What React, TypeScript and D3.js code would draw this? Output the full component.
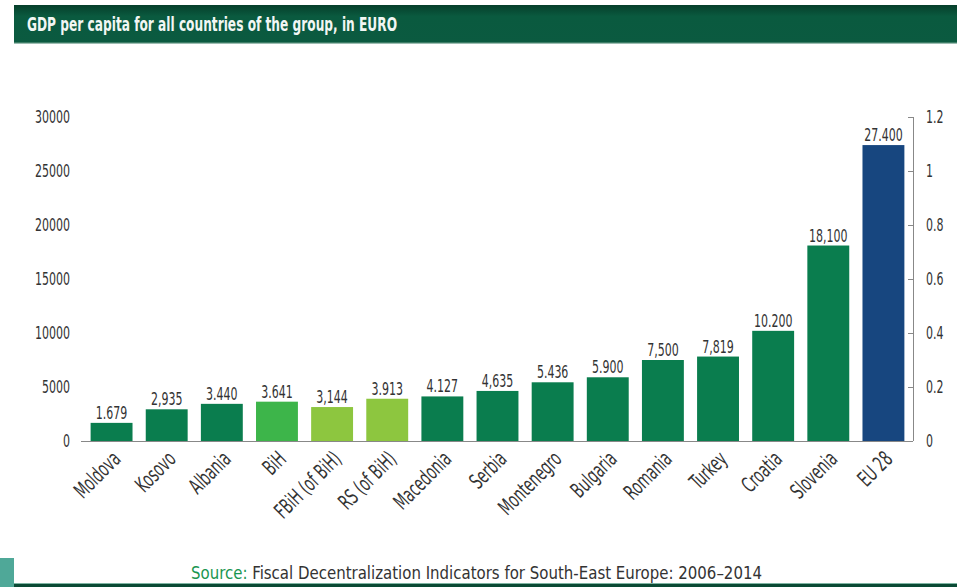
import React from "react";
import * as d3 from "d3";

const categories = ["Moldova", "Kosovo", "Albania", "BiH", "FBiH (of BiH)", "RS (of BiH)", "Macedonia", "Serbia", "Montenegro", "Bulgaria", "Romania", "Turkey", "Croatia", "Slovenia", "EU 28"];
const values = [1679, 2935, 3440, 3641, 3144, 3913, 4127, 4635, 5436, 5900, 7500, 7819, 10200, 18100, 27400];
const valueLabels = ["1.679", "2,935", "3.440", "3.641", "3,144", "3.913", "4.127", "4,635", "5.436", "5.900", "7,500", "7,819", "10.200", "18,100", "27.400"];
const groups = ["c", "c", "c", "b", "r", "r", "c", "c", "c", "c", "c", "c", "c", "c", "e"];
const leftTicks = [0, 5000, 10000, 15000, 20000, 25000, 30000];
const rightTicks = [0, 0.2, 0.4, 0.6, 0.8, 1, 1.2];

const colors: Record<string, string> = { c: "#0a7d4e", b: "#3db54a", r: "#8dc63f", e: "#17467f" };
const FONT = "'DejaVu Sans Condensed', 'Liberation Sans Narrow', sans-serif";
const SX = 0.68;

function T(props: { x: number; y: number; anchor?: string; size?: number; rot?: number; fill?: string; dy?: string; children: any }) {
  const { x, y, anchor = "start", size = 18, rot = 0, fill = "#333", dy = "0", children } = props;
  return (
    <text transform={`translate(${x},${y}) rotate(${rot}) scale(${SX},1)`} textAnchor={anchor} dy={dy} fontFamily={FONT} fontSize={size} fill={fill}>{children}</text>
  );
}

export default function App() {
  const W = 957, H = 587;
  const top = 117, bottom = 441;
  const x = d3.scaleBand<string>().domain(categories).range([84, 911]).paddingInner(0.24).paddingOuter(0.12);
  const y = d3.scaleLinear().domain([0, 30000]).range([bottom, top]);
  const y2 = d3.scaleLinear().domain([0, 1.2]).range([bottom, top]);
  const axisX = 913;
  return (
    <svg width={W} height={H} style={{ position: "absolute", left: 0, top: 0, background: "#fff" }}>
      <defs>
        <linearGradient id="hdr" x1="0" y1="0" x2="0" y2="1">
          <stop offset="0" stopColor="#063f2b" />
          <stop offset="0.3" stopColor="#0a5a3f" />
          <stop offset="1" stopColor="#0b5a40" />
        </linearGradient>
      </defs>
      <rect x={14} y={5} width={W - 14} height={38} fill="url(#hdr)" />
      <rect x={14} y={42} width={W - 14} height={1.5} fill="#3d7d66" />
      <text x={27} y={31} fill="#f2f7f4" fontFamily={FONT} fontSize={19} fontWeight="bold" textLength={370} lengthAdjust="spacingAndGlyphs">GDP per capita for all countries of the group, in EURO</text>

      {leftTicks.map(t => (
        <T key={t} x={70} y={y(t)} dy="0.36em" anchor="end">{t}</T>
      ))}

      <line x1={81} x2={axisX} y1={bottom + 0.5} y2={bottom + 0.5} stroke="#888" strokeWidth={1} />

      {categories.map((c, i) => {
        const cx = (x(c) as number) + x.bandwidth() / 2;
        return (
          <g key={c}>
            <rect x={x(c)} y={y(values[i])} width={x.bandwidth()} height={bottom - y(values[i])} fill={colors[groups[i]]} />
            <T x={cx} y={y(values[i]) - 4} anchor="middle">{valueLabels[i]}</T>
            <T x={cx - 1} y={bottom + 8} rot={-45} anchor="end" dy="0.75em" size={21.5}>{c}</T>
          </g>
        );
      })}

      <line x1={axisX + 0.5} x2={axisX + 0.5} y1={top} y2={bottom} stroke="#888" strokeWidth={1} />
      {rightTicks.map(t => (
        <g key={t}>
          <line x1={axisX - 5} x2={axisX} y1={y2(t) + 0.5} y2={y2(t) + 0.5} stroke="#888" strokeWidth={1} />
          <T x={926} y={y2(t)} dy="0.36em">{t}</T>
        </g>
      ))}

      <rect x={0} y={558} width={14} height={29} fill="#4fa898" />
      <rect x={14} y={584} width={W - 14} height={3} fill="#0b4a35" />
      <rect x={14} y={583} width={W - 14} height={1} fill="#7fb5a3" />
      <text x={191} y={579} fontFamily={FONT} fontSize={18} fill="#333" textLength={571} lengthAdjust="spacingAndGlyphs">
        <tspan fill="#1a9650">Source:</tspan> Fiscal Decentralization Indicators for South-East Europe: 2006–2014
      </text>
    </svg>
  );
}
